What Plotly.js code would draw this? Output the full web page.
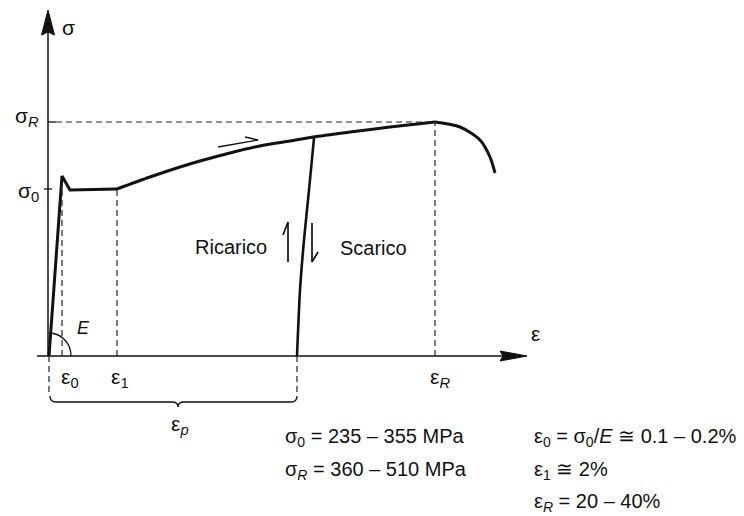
<!DOCTYPE html>
<html><head><meta charset="utf-8">
<script src="https://cdn.plot.ly/plotly-3.0.1.min.js"></script>
<style>html,body{margin:0;padding:0;background:#fff}</style>
</head><body>
<div id="chart" style="width:744px;height:516px"></div>
<script>
// Reference levels (drawing units: strain -> x, stress -> y)
const eps0 = 14, eps1 = 69, epsR = 387, epsP = 249;
const sig0 = 167, sigR = 234;

// Stress-strain curve segments
const elasticX = [1, 14, 22, 69];
const elasticY = [0, 180, 166, 167];
const hardX = [69, 102, 132, 152, 182, 212, 242, 265, 302, 342, 387];
const hardY = [167, 179, 189, 195, 203, 210, 215, 219, 224, 229, 234];
const neckX = [387, 412, 432, 442, 447];
const neckY = [234, 229, 216, 199, 183];
const unloadX = [266, 261, 256, 252, 249];
const unloadY = [218, 166, 116, 66, 0];

// Tick labels
const axisLabels = [
  {t: 'σ', x: 20, y: 329, s: 21},
  {t: 'σ<sub><i>R</i></sub>', x: -21, y: 239, s: 21},
  {t: 'σ<sub>0</sub>', x: -20, y: 164, s: 21},
  {t: 'ε', x: 487, y: 23, s: 21},
  {t: '<i>E</i>', x: 35, y: 28, s: 18},
  {t: 'ε<sub>0</sub>', x: 22, y: -22, s: 21},
  {t: 'ε<sub>1</sub>', x: 72, y: -22, s: 21},
  {t: 'ε<sub><i>R</i></sub>', x: 392, y: -22, s: 21},
  {t: 'ε<sub><i>p</i></sub>', x: 132, y: -69, s: 21},
  {t: 'Ricarico', x: 183, y: 109, s: 20},
  {t: 'Scarico', x: 325, y: 108, s: 20}
];
const notesLeft = ['σ<sub>0</sub> = 235 – 355 MPa', 'σ<sub><i>R</i></sub> = 360 – 510 MPa'];
const notesRight = ['ε<sub>0</sub> = σ<sub>0</sub>/<i>E</i> ≅ 0.1 – 0.2%', 'ε<sub>1</sub> ≅ 2%', 'ε<sub><i>R</i></sub> = 20 – 40%'];
const noteRows = [-81, -114, -146];

const font = 'Liberation Sans, Arial, Helvetica, sans-serif';
const ln = {color: '#111', width: 3};
const traces = [
  {x: elasticX, y: elasticY, mode: 'lines', line: ln, hoverinfo: 'skip'},
  {x: hardX, y: hardY, mode: 'lines', line: Object.assign({shape: 'spline', smoothing: 0.8}, ln), hoverinfo: 'skip'},
  {x: neckX, y: neckY, mode: 'lines', line: Object.assign({shape: 'spline', smoothing: 0.8}, ln), hoverinfo: 'skip'},
  {x: unloadX, y: unloadY, mode: 'lines', line: Object.assign({shape: 'spline', smoothing: 0.6}, {color: '#111', width: 2.6}), hoverinfo: 'skip'}
];

const dash = {color: '#222', width: 1.2, dash: '6px,4px'};
const solid = {color: '#111', width: 1.5};
const thin = {color: '#111', width: 1.3};
const arr = {color: '#111', width: 1.7};
const shapes = [
  // axes
  {type: 'line', x0: 0, y0: 0, x1: 0, y1: 325, line: solid},
  {type: 'line', x0: -11, y0: 0, x1: 455, y1: 0, line: solid},
  {type: 'path', path: 'M 0,346 L -6.5,321 L 0,324 L 6.5,321 Z', fillcolor: '#111', line: {color: '#111', width: 1}},
  {type: 'path', path: 'M 479,0 L 452,5 L 455,0 L 452,-5 Z', fillcolor: '#111', line: {color: '#111', width: 1}},
  // ticks
  {type: 'line', x0: -4, y0: sig0, x1: 4, y1: sig0, line: thin},
  {type: 'line', x0: 0, y0: sigR, x1: 8, y1: sigR, line: thin},
  // dashed reference lines
  {type: 'line', x0: 8, y0: sigR, x1: epsR, y1: sigR, line: dash},
  {type: 'line', x0: eps0, y0: 0, x1: eps0, y1: sig0, line: dash},
  {type: 'line', x0: eps1, y0: 0, x1: eps1, y1: sig0, line: dash},
  {type: 'line', x0: epsR, y0: 0, x1: epsR, y1: sigR, line: dash},
  {type: 'line', x0: 1, y0: 0, x1: 1, y1: -40, line: dash},
  {type: 'line', x0: epsP, y0: 0, x1: epsP, y1: -40, line: dash},
  // brace for eps_p
  {type: 'path', path: 'M 2,-40 Q 2,-46 8,-46 L 124,-46 Q 130,-46 130,-51 Q 130,-46 136,-46 L 243,-46 Q 249,-46 249,-40', line: thin},
  // modulus arc
  {type: 'path', path: 'M 1,23 C 13.5,23 23,12.7 23,0', line: thin},
  // direction arrow along curve
  {type: 'line', x0: 170, y0: 209, x1: 210, y1: 216, line: thin},
  {type: 'line', x0: 197, y0: 219, x1: 210, y1: 216, line: thin},
  // reload (up) arrow
  {type: 'line', x0: 240, y0: 94, x1: 240, y1: 134, line: arr},
  {type: 'line', x0: 235, y0: 121, x1: 240, y1: 134, line: arr},
  // unload (down) arrow
  {type: 'line', x0: 264, y0: 133, x1: 264, y1: 94, line: arr},
  {type: 'line', x0: 264, y0: 94, x1: 270, y1: 104, line: arr}
];

const annotations = axisLabels.map(a => ({
  text: a.t, x: a.x, y: a.y, xref: 'x', yref: 'y', showarrow: false,
  xanchor: 'center', yanchor: 'middle', font: {family: font, size: a.s, color: '#111'}
}));
notesLeft.forEach((t, i) => annotations.push({text: t, x: 235, y: noteRows[i], xref: 'x', yref: 'y', showarrow: false, xanchor: 'left', yanchor: 'middle', font: {family: font, size: 20, color: '#111'}}));
notesRight.forEach((t, i) => annotations.push({text: t, x: 484, y: noteRows[i], xref: 'x', yref: 'y', showarrow: false, xanchor: 'left', yanchor: 'middle', font: {family: font, size: 20, color: '#111'}}));

const layout = {
  width: 744, height: 516,
  margin: {l: 0, r: 0, t: 0, b: 0, pad: 0},
  paper_bgcolor: '#fff', plot_bgcolor: '#fff',
  showlegend: false,
  xaxis: {range: [-48, 696], visible: false, fixedrange: true},
  yaxis: {range: [-160, 356], visible: false, fixedrange: true},
  shapes: shapes,
  annotations: annotations
};
Plotly.newPlot('chart', traces, layout, {staticPlot: true});
</script>
</body></html>
